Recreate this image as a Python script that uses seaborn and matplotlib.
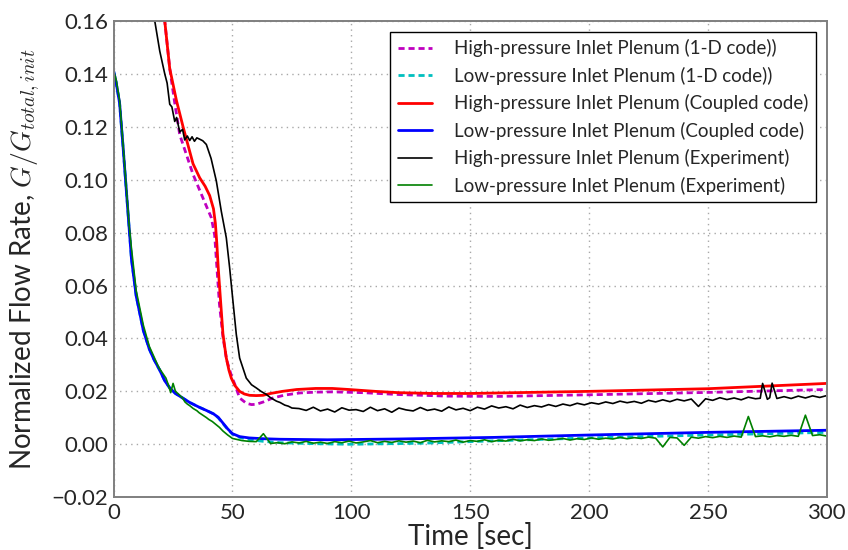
import numpy as np
import pandas as pd
import seaborn as sns
import matplotlib
matplotlib.use("Agg")
import matplotlib.pyplot as plt

# ---- data ----
# high-pressure inlet plenum, 1-D code (magenta dashed)
hp1d_t = [15, 18, 21.5, 23.6, 25.7, 27.8, 30.6, 33.4, 37.6, 41.1, 42.5, 43.5, 44.5, 46, 47.5,
          49.5, 51, 53, 55.8, 58, 60, 63, 67, 72, 78.3, 85, 92, 105, 120, 140, 162, 200, 250,
          300]
hp1d_y = [0.21, 0.19, 0.16, 0.142, 0.129, 0.117, 0.1095, 0.102, 0.093, 0.0856, 0.079, 0.066,
          0.053, 0.0405, 0.032, 0.026, 0.0226, 0.0175, 0.0155, 0.0150, 0.0151, 0.0160, 0.0175,
          0.0186, 0.0194, 0.0197, 0.0198, 0.0195, 0.0188, 0.0182, 0.0181, 0.0187, 0.0196,
          0.0207]

# low-pressure inlet plenum, 1-D code (cyan dashed)
lp1d_t = [0, 1, 2.5, 4.0, 5.5, 7.5, 9.5, 12.5, 15, 17, 19.4, 21.5, 23.6, 26, 29, 32, 36, 39,
          42, 44, 46, 48, 50, 53, 57, 63, 70, 85, 100, 130, 160, 200, 250, 300]
lp1d_y = [0.141, 0.137, 0.129, 0.112, 0.094, 0.070, 0.056, 0.043, 0.036, 0.032, 0.028, 0.024,
          0.0213, 0.0192, 0.0175, 0.0158, 0.0140, 0.0128, 0.0115, 0.0100, 0.0078, 0.0056,
          0.0038, 0.0026, 0.0018, 0.0011, 0.0006, 0.0002, 0.0, 0.0004, 0.0013, 0.0024,
          0.0035, 0.0045]

# high-pressure inlet plenum, coupled code (red)
hpc_t = [15, 18, 21.5, 23.6, 26.4, 29.2, 31.3, 33.4, 36.2, 38.5, 40.4, 42.0, 42.8, 43.4, 44.0,
         45.0, 46, 47.4, 48.5, 49.5, 51, 53, 55, 57.2, 60, 62.8, 66, 71, 77, 85, 92, 99, 110,
         120, 135, 150, 200, 250, 300]
hpc_y = [0.21, 0.19, 0.16, 0.142, 0.13, 0.12, 0.113, 0.106, 0.1007, 0.0975, 0.094, 0.089,
         0.0835, 0.076, 0.0667, 0.054, 0.0415, 0.0326, 0.0280, 0.0250, 0.0222, 0.0200,
         0.0190, 0.0185, 0.0184, 0.0185, 0.0192, 0.0200, 0.0207, 0.0211, 0.0211, 0.0207,
         0.0200, 0.0195, 0.0192, 0.0192, 0.0200, 0.0210, 0.0230]

# low-pressure inlet plenum, coupled code (blue)
lpc_t = [0, 1, 2.5, 4.0, 5.5, 7.5, 9.5, 12.5, 15, 17, 19.4, 21.5, 23.6, 26, 29, 32, 36, 39,
         42, 44, 46, 48, 50, 53, 57, 63, 70, 90, 120, 160, 200, 250, 300]
lpc_y = [0.141, 0.137, 0.129, 0.112, 0.094, 0.070, 0.056, 0.043, 0.036, 0.032, 0.028, 0.024,
         0.0213, 0.0192, 0.0175, 0.0158, 0.0140, 0.0128, 0.0115, 0.0102, 0.0080, 0.0058,
         0.0040, 0.0029, 0.0024, 0.0021, 0.0019, 0.0017, 0.002, 0.0026, 0.0035, 0.0045,
         0.0053]

# high-pressure inlet plenum, experiment (black)
hpx_t = [8, 12, 17.3, 19.4, 21.5, 22.5, 23.6, 24.5, 25.7, 26.5, 27.8, 29.0, 29.9, 31, 32, 33,
         34, 35, 36.2, 37.5, 39, 41, 43.2, 45.3, 47.4, 48.8, 50.2, 51.6, 53, 55.8, 58, 60, 62,
         64.3, 66, 68.5, 70, 72, 73.5, 75,
         78, 81, 84, 87, 90, 93, 96, 99, 102, 105, 108, 111, 114, 117, 120, 123, 126, 129,
         132, 135, 138, 141, 144, 147, 150,
         153, 156, 159, 162, 165, 168, 171, 174, 177, 180, 183, 186, 189, 192, 195, 198, 201,
         204, 207, 210, 213, 216, 219, 222, 225, 228, 231, 234, 237, 240, 243, 246,
         249, 252, 255, 258, 261, 264, 267, 270, 272, 273, 275, 276, 277, 279, 282, 285, 288,
         291, 294, 297, 300]
hpx_y = [0.20, 0.185, 0.16, 0.1486, 0.14, 0.1365, 0.1285, 0.1275, 0.122, 0.1235, 0.118,
         0.1190, 0.115, 0.1165, 0.1148, 0.1162, 0.1145, 0.1158, 0.1153, 0.1147, 0.1133, 0.108,
         0.0995, 0.088, 0.078, 0.0667, 0.054, 0.0415, 0.0326, 0.025, 0.0225, 0.0213, 0.0200,
         0.0188, 0.0176, 0.0163, 0.0158, 0.0148, 0.0144, 0.0137,
         0.0135, 0.0128, 0.0140, 0.0126, 0.0133, 0.0122, 0.0138, 0.0129, 0.0131, 0.0124,
         0.0140, 0.0127, 0.0134, 0.0121, 0.0137, 0.0130, 0.0126, 0.0139, 0.0128, 0.0133,
         0.0125, 0.0141, 0.0130, 0.0136, 0.0127,
         0.0140, 0.0133, 0.0145, 0.0137, 0.0142, 0.0134, 0.0148, 0.0139, 0.0146, 0.0141,
         0.0150, 0.0143, 0.0152, 0.0146, 0.0155, 0.0149, 0.0157,
         0.0152, 0.0160, 0.0154, 0.0163, 0.0157, 0.0162, 0.0155, 0.0166, 0.0160, 0.0168,
         0.0161, 0.0170, 0.0164, 0.0171, 0.0143,
         0.0172, 0.0166, 0.0176, 0.0169, 0.0175, 0.0168, 0.0178, 0.0172, 0.0174, 0.0230,
         0.0170, 0.0176, 0.0231, 0.0173, 0.0180, 0.0173, 0.0182, 0.0175, 0.0183, 0.0177,
         0.0184]

# low-pressure inlet plenum, experiment (green)
lpx_t = [0, 1, 2.5, 4.0, 5.5, 6.5, 7.5, 9.5, 12.5, 15, 17, 19, 20.5, 22, 23, 24, 25, 26,
         27.5, 29, 30, 31, 32, 33.5, 35, 36, 37.5, 39, 40, 41.5, 43, 44.5, 46, 48, 50, 54, 57,
         60, 63, 66, 69, 72, 75, 78, 81, 84, 87,
         90, 93, 96, 99, 102, 105, 108, 111, 114, 117,
         120, 123, 126, 129, 132, 135, 138, 141, 144, 147,
         150, 153, 156, 159, 162, 165, 168, 171, 174, 177,
         180, 183, 186, 189, 192, 195, 198, 201, 204, 207,
         210, 213, 216, 219, 222, 225, 228, 231, 234, 237,
         240, 243, 246, 249, 252, 255, 258, 261, 264, 267,
         270, 273, 276, 279, 282, 285, 288, 291, 294, 297, 300]
lpx_y = [0.141, 0.138, 0.130, 0.113, 0.095, 0.083, 0.074, 0.058, 0.045, 0.037, 0.033,
         0.029, 0.027, 0.025, 0.0225, 0.0195, 0.023, 0.020, 0.0188, 0.0175, 0.0160, 0.0152,
         0.0146, 0.0135, 0.0127, 0.0119, 0.0110, 0.0101, 0.0094, 0.0086, 0.0075, 0.0064,
         0.0050, 0.0035, 0.0022, 0.0014, 0.0011,
         0.0010, 0.0040, 0.0003, 0.0006, 0.0002, 0.0009, 0.0005, 0.0011, 0.0004, 0.0008,
         0.0003, 0.0010, 0.0006, 0.0012, 0.0005, 0.0009, 0.0014, 0.0006, 0.0011, 0.0007,
         0.0013, 0.0008, 0.0012, 0.0006, 0.0015, 0.0009, 0.0013, 0.0010, 0.0016, 0.0008,
         0.0014, 0.0011, 0.0017, 0.0010, 0.0015, 0.0012, 0.0019, 0.0013, 0.0017, 0.0014,
         0.0020, 0.0015, 0.0018, 0.0022, 0.0016, 0.0021, 0.0018, 0.0024, 0.0019, 0.0023,
         0.0020, 0.0026, 0.0021, 0.0025, 0.0022, 0.0027, 0.0023, -0.0010, 0.0026, 0.0024,
         -0.0004, 0.0027, 0.0023, 0.0029, 0.0025, 0.0030, 0.0026, 0.0031, 0.0027, 0.0105,
         0.0029, 0.0032, 0.0028, 0.0033, 0.0030, 0.0034, 0.0030, 0.0110, 0.0033, 0.0036,
         0.0031]

labels = ["High-pressure Inlet Plenum (1-D code))",
          "Low-pressure Inlet Plenum (1-D code))",
          "High-pressure Inlet Plenum (Coupled code)",
          "Low-pressure Inlet Plenum (Coupled code)",
          "High-pressure Inlet Plenum (Experiment)",
          "Low-pressure Inlet Plenum (Experiment)"]

x_ticks = [0, 50, 100, 150, 200, 250, 300]
y_ticks = [-0.02, 0.0, 0.02, 0.04, 0.06, 0.08, 0.10, 0.12, 0.14, 0.16]

# ---- style ----
sns.set_style("whitegrid", {"axes.edgecolor": "#7f7f7f"})
plt.rcParams['font.family'] = ['Lato', 'DejaVu Sans']
plt.rcParams['mathtext.fontset'] = 'cm'

fig, ax = plt.subplots(figsize=(8.48, 5.5), dpi=100)
fig.subplots_adjust(left=0.134, right=0.975, bottom=0.096, top=0.962)

series = [
    (hp1d_t, hp1d_y, "#bf00bf", 2.0, True),
    (lp1d_t, lp1d_y, "#00bfbf", 2.0, True),
    (hpc_t, hpc_y, "#ff0000", 2.0, False),
    (lpc_t, lpc_y, "#0000ff", 2.0, False),
    (hpx_t, hpx_y, "#000000", 1.2, False),
    (lpx_t, lpx_y, "#008000", 1.2, False),
]
for (t, y, c, lw, dashed), lab in zip(series, labels):
    sns.lineplot(x=t, y=y, color=c, linewidth=lw, label=lab, ax=ax, sort=False)
    if dashed:
        ax.lines[-1].set_dashes([2.2, 1.4])

ax.set_xlim(0, 300)
ax.set_ylim(-0.02, 0.16)
ax.set_xticks(x_ticks)
ax.set_yticks(y_ticks)
ax.set_yticklabels(["\u22120.02"] + ["%.2f" % v for v in y_ticks[1:]])
ax.tick_params(labelsize=16, length=0, pad=4)
ax.grid(True, linestyle=(0, (1, 3)), color="#a8a8a8", linewidth=1)
for s in ax.spines.values():
    s.set_color("#7f7f7f")
    s.set_linewidth(1.4)

ax.set_xlabel("Time [sec]", fontsize=20, labelpad=0)
ax.set_ylabel("Normalized Flow Rate, $G/G_{total,init}$", fontsize=20, labelpad=0)
ax.yaxis.set_label_coords(-0.101, 0.5)

leg = ax.legend(loc="upper right", bbox_to_anchor=(0.985, 0.977), borderaxespad=0,
                fontsize=13.5, fancybox=False, framealpha=1, edgecolor="black",
                handlelength=1.8, handletextpad=1.2, labelspacing=0.5)
leg.get_frame().set_linewidth(1.0)
for h in leg.get_lines():
    h.set_linewidth(2.0 if h.get_color() not in ("#000000", "#008000") else 1.2)

fig.savefig("out.png", dpi=100)
